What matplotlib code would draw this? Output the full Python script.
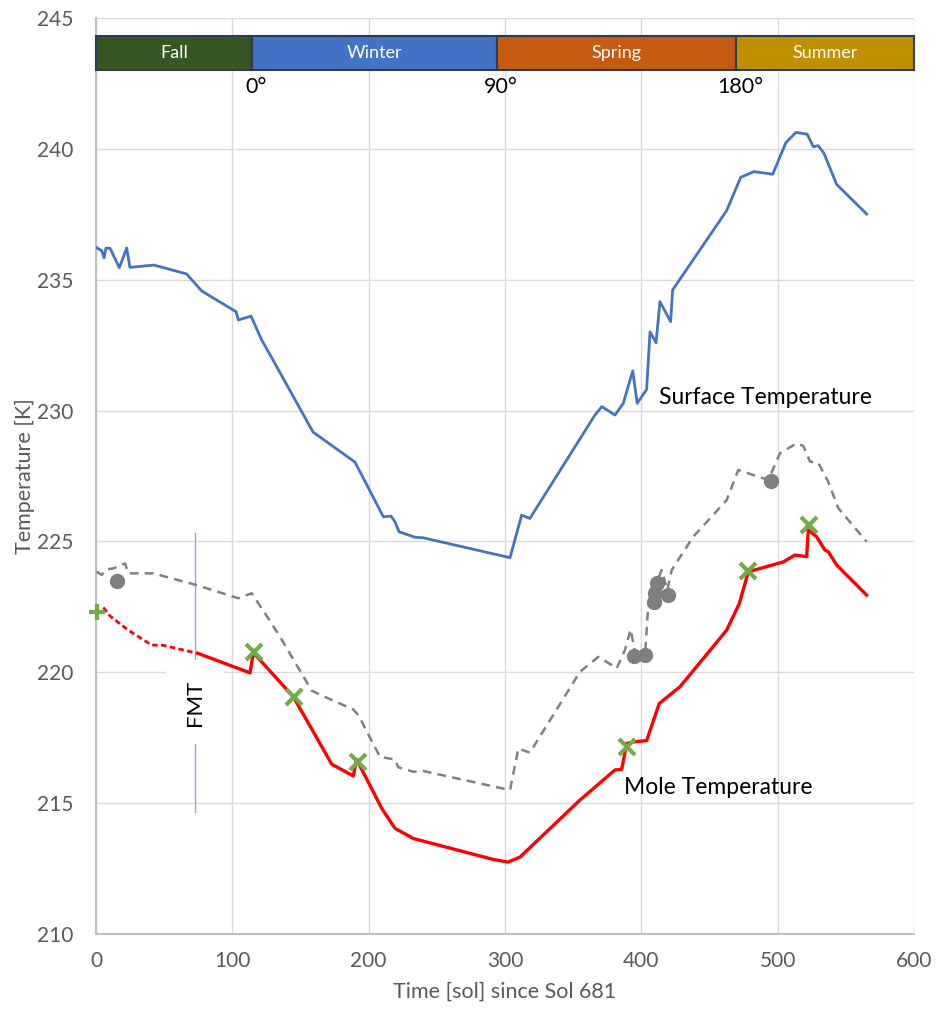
import matplotlib
matplotlib.use("Agg")
import matplotlib.pyplot as plt
from matplotlib.patches import Rectangle

plt.rcParams['font.family'] = ['Lato', 'DejaVu Sans']

# Surface temperature (blue)
surf_sol = [0.5, 4.2, 5.9, 7.3, 10.3, 17.1, 22.5, 24.9, 42.5, 66.5, 77.5, 102.7, 104.4, 113.7,
            121.5, 129.1, 159.2, 190, 210.8, 216.4, 219.3, 222.3, 234, 240, 303.7, 312.2, 318.3,
            366, 371, 380.7, 386.8, 393.7, 397, 403.9, 406.4, 410.8, 413.7, 421.5, 423,
            462.6, 472.9, 482.6, 496.4, 506.1, 513.5, 521.7, 526.2, 529.8, 534, 543.3, 565.3]
surf_T = [236.22, 236.11, 235.84, 236.21, 236.20, 235.46, 236.21, 235.47, 235.56, 235.22, 234.57,
          233.78, 233.46, 233.61, 232.70, 232.0, 229.18, 228.03, 225.94, 225.97, 225.75, 225.37,
          225.16, 225.14, 224.38, 226.0, 225.88, 229.83, 230.15, 229.83, 230.28, 231.52, 230.28,
          230.81, 233.01, 232.59, 234.16, 233.40, 234.61, 237.64, 238.91, 239.13,
          239.03, 240.24, 240.63, 240.56, 240.08, 240.12, 239.83, 238.64, 237.51]

# Gray dashed model line
model_sol = [0.5, 4.2, 7.3, 12.7, 21.3, 23.7, 42, 73.9, 104.4, 114.2, 124, 135, 158.2, 166.7,
             188.7, 192.4, 208.3, 219.3, 221.7, 232.8, 240, 303.7, 309.8, 318.3, 355, 368.4,
             374.6, 381.9, 388, 392.2, 396.6, 402.7, 405.1, 414.9, 419.1, 422.3, 438.1, 462.6,
             471.1, 493.2, 501.7, 513.9, 518.8, 523.7, 529.8, 537.1, 544.5, 565.3]
model_T = [223.84, 223.72, 223.93, 223.97, 224.16, 223.78, 223.78, 223.33, 222.83, 223.02, 222.25,
           221.36, 219.3, 219.09, 218.58, 218.37, 216.77, 216.67, 216.37, 216.2, 216.23, 215.5,
           217.09, 216.93, 220.02, 220.59, 220.4, 220.15, 220.85, 221.64, 220.4, 220.6, 222.57,
           223.91, 223.14, 223.91, 225.18, 226.58, 227.73, 227.35, 228.37, 228.75, 228.65, 228.05,
           228.01, 227.28, 226.27, 224.99]

# Gray dots
dot_sol = [15.2, 394.6, 402.7, 409.3, 410, 411.3, 419.8, 494.9]
dot_T = [223.5, 220.63, 220.68, 222.70, 223.02, 223.40, 222.95, 227.31]

# Mole temperature (red): dotted extrapolated start, then solid
mole_dot_sol = [5.4, 10.3, 23.7, 40.8, 49.4, 75]
mole_dot_T = [222.48, 222.15, 221.61, 221.04, 221.03, 220.72]
mole_sol = [75, 113, 115.4, 144.7, 164.3, 172.9, 188.7, 191.2, 209.6, 219.3, 232.8, 291.4, 302.2,
            311, 355, 380.7, 385.6, 389.3, 395.4, 403.9, 413.2, 428.4, 462.6, 471.9, 478.5, 504.2,
            512.7, 521.3, 522.5, 528.6, 534.7, 537.1, 543.3, 565.3]
mole_T = [220.72, 219.98, 220.75, 219.07, 217.28, 216.49, 216.04, 216.67, 214.80, 214.04, 213.65,
          212.85, 212.75, 212.94, 215.12, 216.27, 216.29, 217.28, 217.35, 217.39, 218.81, 219.45,
          221.61, 222.63, 223.84, 224.22, 224.48, 224.42, 225.44, 225.18, 224.67, 224.61, 224.10,
          222.95]

# Green measurement markers
x_sol = [115.9, 145.2, 192.2, 389.5, 478.2, 523.2]
x_T = [220.77, 219.05, 216.57, 217.14, 223.87, 225.63]
plus_sol = [0.5]
plus_T = [222.31]

# Seasons
seasons = ["Fall", "Winter", "Spring", "Summer"]
season_start = [0, 114.4, 294, 469.5]
season_end = [114.4, 294, 469.5, 600]
season_colors = ["#375623", "#4472c4", "#c55a11", "#bf9000"]
ls_labels = ["0°", "90°", "180°"]
ls_sol = [114.4, 294, 469.5]

fmt_sol = 72.6

fig = plt.figure(figsize=(9.43, 10.10), dpi=100)
ax = fig.add_axes([0.1018, 0.0752, 0.8674, 0.907])
ax.set_xlim(0, 600)
ax.set_ylim(210, 245)
ax.set_xticks(range(0, 601, 100))
ax.set_yticks(range(210, 246, 5))
ax.grid(True, color="#d9d9d9", linewidth=1.0, zorder=0)
ax.set_axisbelow(True)
for s in ["top", "right"]:
    ax.spines[s].set_visible(False)
for s in ["left", "bottom"]:
    ax.spines[s].set_color("#bfbfbf")
    ax.spines[s].set_linewidth(1.5)
ax.tick_params(length=0, labelsize=15, colors="#595959")
ax.tick_params(axis="x", pad=12)
ax.tick_params(axis="y", pad=16)
ax.set_xlabel("Time [sol] since Sol 681", fontsize=15.5, color="#595959", labelpad=8)
ax.set_ylabel("Temperature [K]", fontsize=15.5, color="#595959")
ax.yaxis.set_label_coords(-0.074, 0.5)

# FMT line
ax.plot([fmt_sol, fmt_sol], [214.66, 225.32], color="#8faadc", linewidth=1.0, zorder=2)
ax.text(fmt_sol, 218.85, "FMT", rotation=90, ha="center", va="center", fontsize=16,
        color="black", zorder=3,
        bbox=dict(boxstyle="square,pad=0.85", facecolor="white", edgecolor="none"))

ax.plot(surf_sol, surf_T, color="#4472c4", linewidth=2.0, zorder=4)
ax.plot(model_sol, model_T, color="#808080", linewidth=1.8, linestyle=(0, (3.5, 2.5)), zorder=4)
ax.plot(dot_sol, dot_T, linestyle="none", marker="o", markersize=10, color="#7f7f7f", zorder=5)
ax.plot(mole_dot_sol, mole_dot_T, color="#ff0000", linewidth=2.0, linestyle=(0, (2, 1.2)), zorder=4)
ax.plot(mole_sol, mole_T, color="#ff0000", linewidth=2.4, zorder=4)
ax.plot(x_sol, x_T, linestyle="none", marker="x", markersize=12, markeredgewidth=3,
        color="#70ad47", zorder=6, clip_on=False)
ax.plot(plus_sol, plus_T, linestyle="none", marker="+", markersize=12, markeredgewidth=3,
        color="#70ad47", zorder=6, clip_on=False)

ax.text(413, 230.5, "Surface Temperature", fontsize=16.5, color="black", va="center", ha="left")
ax.text(387, 215.6, "Mole Temperature", fontsize=16.5, color="black", va="center", ha="left")

# Season bar
for name, s0, s1, c in zip(seasons, season_start, season_end, season_colors):
    ax.add_patch(Rectangle((s0, 243.0), s1 - s0, 1.3, facecolor=c, edgecolor="#2e3b55",
                           linewidth=1.5, zorder=7, clip_on=False))
    ax.text((s0 + s1) / 2, 243.65, name, color="white", fontsize=13, ha="center", va="center",
            zorder=8)
for lab, s in zip(ls_labels, ls_sol):
    ax.text(s + 3, 242.35, lab, fontsize=15.5, color="black", ha="center", va="center", zorder=8)

fig.savefig("out.png", dpi=100)
